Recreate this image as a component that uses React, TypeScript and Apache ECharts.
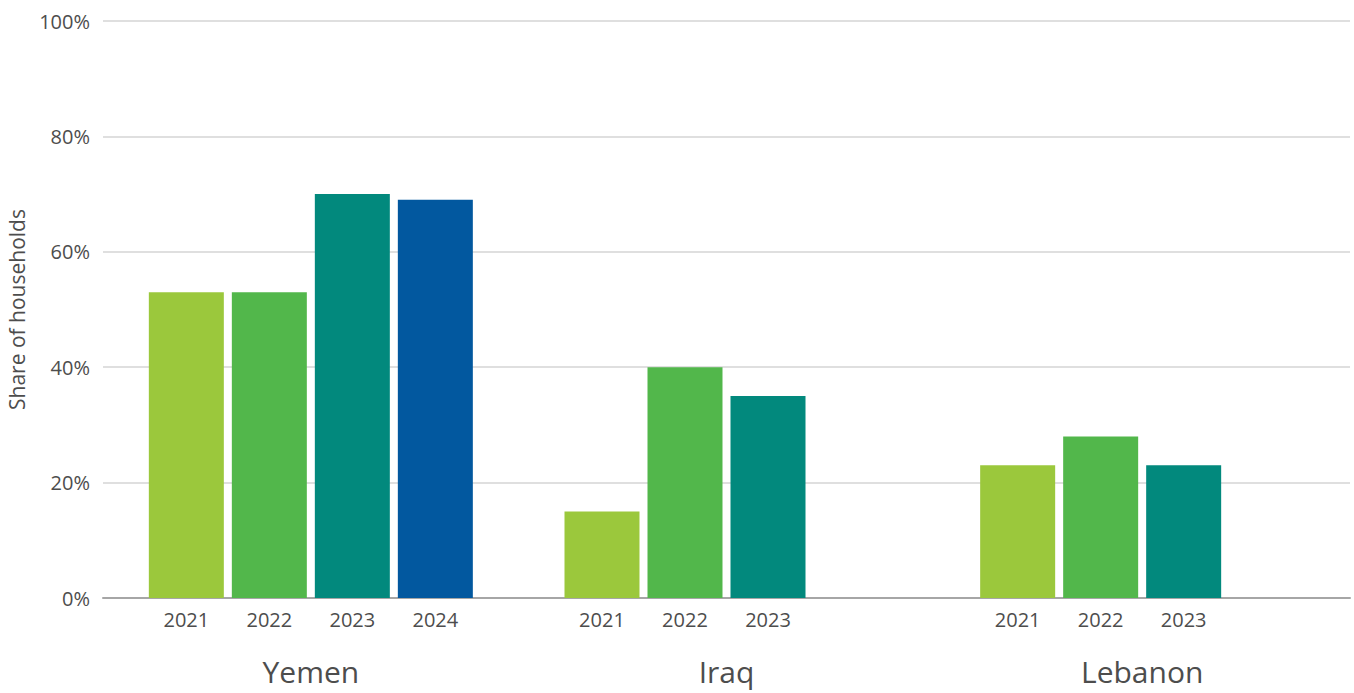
import React, { useEffect, useRef } from "react";
import * as echarts from "echarts";

const countries = ["Yemen", "Iraq", "Lebanon"];
const years = ["2021", "2022", "2023", "2024"];
const yearColors = ["#9BC83C", "#52B74B", "#02897D", "#02589F"];
// share of households (%) per year, in country order; null = no survey that year
const share2021 = [53, 15, 23];
const share2022 = [53, 40, 28];
const share2023 = [70, 35, 23];
const share2024 = [69, null, null];
const yTicks = [0, 20, 40, 60, 80, 100];

const FONT = "'Open Sans', 'Noto Sans', sans-serif";
const TEXT = "#4d4d4d";

export default function App() {
  const ref = useRef<HTMLDivElement>(null);

  useEffect(() => {
    if (!ref.current) return;
    const chart = echarts.init(ref.current, null, { renderer: "svg" });
    const values = [share2021, share2022, share2023, share2024];
    chart.setOption({
      animation: false,
      textStyle: { fontFamily: FONT },
      grid: { left: 103, right: 4, top: 21, bottom: 95, outerBoundsMode: "none", containLabel: false },
      xAxis: {
        type: "category",
        data: countries,
        axisTick: { show: false },
        axisLine: { lineStyle: { color: "#a6a6a6", width: 2 } },
        axisLabel: { color: TEXT, fontSize: 30, margin: 58, fontFamily: FONT },
      },
      yAxis: {
        type: "value",
        min: yTicks[0],
        max: yTicks[yTicks.length - 1],
        interval: 20,
        name: "Share of households",
        nameLocation: "middle",
        nameGap: 76,
        nameTextStyle: { color: TEXT, fontSize: 21, fontFamily: FONT },
        axisLine: { show: false },
        axisTick: { show: false },
        axisLabel: { color: TEXT, fontSize: 20, margin: 13, formatter: "{value}%", fontFamily: FONT },
        splitLine: { lineStyle: { color: "#d4d4d4", width: 1.5 } },
      },
      series: years.map((yr, i) => ({
        name: yr,
        type: "bar",
        data: values[i],
        barWidth: 75,
        barGap: "10.67%",
        itemStyle: { color: yearColors[i] },
        label: {
          show: true,
          position: "bottom",
          distance: 11,
          formatter: yr,
          color: TEXT,
          fontSize: 20,
          fontFamily: FONT,
        },
      })),
    });
    return () => chart.dispose();
  }, []);

  return (
    <div
      ref={ref}
      style={{ position: "fixed", left: 0, top: 0, width: 1354, height: 693, background: "#fff" }}
    />
  );
}
